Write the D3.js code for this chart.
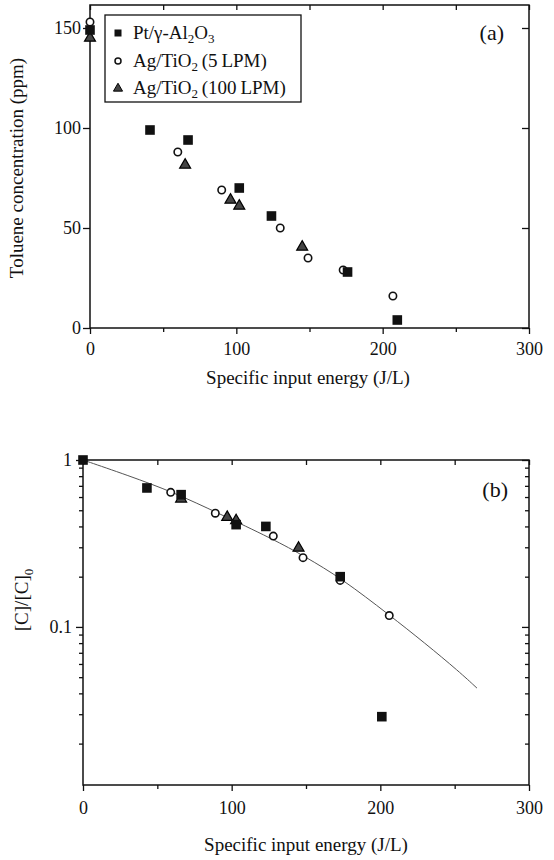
<!DOCTYPE html>
<meta charset="utf-8">
<head>
  <title>Toluene decomposition</title>
</head>
<style>
body { margin: 0; background: #fff; }
svg text { font-family: "Liberation Serif", "DejaVu Serif", serif; fill: #111; }
.frame { fill: none; stroke: #111; stroke-width: 1.5px; }
.axis path { display: none; }
.axis line { stroke: #111; stroke-width: 1.3px; }
.axis text { font-size: 18px; }
.fit { fill: none; stroke: #555; stroke-width: 1px; }
</style>
<body>
<svg width="554" height="860"></svg>
<script src="https://cdnjs.cloudflare.com/ajax/libs/d3/7.8.5/d3.min.js"></script>
<script>
// panel (a): toluene concentration (ppm)
var ptX_a = [0, 41, 67, 102, 124, 176, 210];
var ptY_a = [149, 99, 94, 70, 56, 28, 4];
var ag5X_a = [0, 60, 90, 130, 149, 173, 207];
var ag5Y_a = [153, 88, 69, 50, 35, 29, 16];
var ag100X_a = [0, 65, 96, 102, 145];
var ag100Y_a = [145, 81.5, 64, 61, 40.5];

// panel (b): [C]/[C]0, log scale
var ptX_b = [0, 43, 66, 103, 123, 173, 201];
var ptY_b = [1.0, 0.68, 0.62, 0.41, 0.40, 0.20, 0.029];
var ag5X_b = [59, 89, 128, 148, 173, 206];
var ag5Y_b = [0.64, 0.48, 0.35, 0.26, 0.19, 0.117];
var ag100X_b = [66, 97, 103, 145];
var ag100Y_b = [0.585, 0.454, 0.434, 0.297];
var fitX = [0, 30, 61, 91, 128, 149, 174, 206, 230, 253, 265];
var fitY = [1, 0.81, 0.64, 0.48, 0.335, 0.265, 0.195, 0.118, 0.08, 0.054, 0.043];

var xMajor = [0, 100, 200, 300];
var xMinor = [50, 150, 250];
var yMajor_a = [0, 50, 100, 150];
var yMajor_b = [0.1, 1];
var yMinor_b = [0.02, 0.03, 0.04, 0.05, 0.06, 0.07, 0.08, 0.09,
                0.2, 0.3, 0.4, 0.5, 0.6, 0.7, 0.8, 0.9];

var legendNames = [["Pt/\u03b3-Al", "2", "O", "3"], ["Ag/TiO", "2", "\u2009(5\u2009LPM)"], ["Ag/TiO", "2", "\u2009(100\u2009LPM)"]];

var serif = "'Liberation Serif', 'DejaVu Serif', serif";

function zip(xs, ys) { return xs.map(function(x, i) { return [x, ys[i]]; }); }

var svg = d3.select("svg");

function drawAxes(g, x, y, yTicks, yMinor, yFmt, xPad, yPad) {
  var x0 = x.range()[0], x1 = x.range()[1];
  var y0 = y.range()[0], y1 = y.range()[1];
  // bottom
  g.append("g").attr("class", "axis").attr("transform", "translate(0," + y0 + ")")
    .call(d3.axisBottom(x).tickValues(xMajor).tickSize(6).tickPadding(xPad).tickFormat(d3.format("d")))
    .attr("font-family", serif);
  g.append("g").attr("class", "axis").attr("transform", "translate(0," + y0 + ")")
    .call(d3.axisBottom(x).tickValues(xMinor).tickSize(4).tickFormat(""));
  // top (inward)
  g.append("g").attr("class", "axis").attr("transform", "translate(0," + y1 + ")")
    .call(d3.axisBottom(x).tickValues(xMajor.concat(xMinor)).tickSize(5).tickFormat(""));
  // left
  g.append("g").attr("class", "axis").attr("transform", "translate(" + x0 + ",0)")
    .call(d3.axisLeft(y).tickValues(yTicks).tickSize(7).tickPadding(yPad).tickFormat(yFmt))
    .attr("font-family", serif);
  // right (inward)
  g.append("g").attr("class", "axis").attr("transform", "translate(" + x1 + ",0)")
    .call(d3.axisLeft(y).tickValues(yTicks).tickSize(7).tickFormat(""));
  if (yMinor) {
    g.append("g").attr("class", "axis").attr("transform", "translate(" + x0 + ",0)")
      .call(d3.axisLeft(y).tickValues(yMinor).tickSize(4).tickFormat(""));
    g.append("g").attr("class", "axis").attr("transform", "translate(" + x1 + ",0)")
      .call(d3.axisLeft(y).tickValues(yMinor).tickSize(4).tickFormat(""));
  }
  g.append("rect").attr("class", "frame")
    .attr("x", x0).attr("y", y1).attr("width", x1 - x0).attr("height", y0 - y1);
}

function drawPoints(g, x, y, sq, circ, tri) {
  g.selectAll("circle.ag5").data(circ).enter().append("circle")
    .attr("class", "ag5")
    .attr("cx", function(d) { return x(d[0]); })
    .attr("cy", function(d) { return y(d[1]); })
    .attr("r", 3.7)
    .attr("fill", "#fff").attr("stroke", "#111").attr("stroke-width", 1.6);
  g.selectAll("path.ag100").data(tri).enter().append("path")
    .attr("class", "ag100")
    .attr("transform", function(d) { return "translate(" + x(d[0]) + "," + y(d[1]) + ")"; })
    .attr("d", d3.symbol().type(d3.symbolTriangle).size(52))
    .attr("fill", "#444").attr("stroke", "#000").attr("stroke-width", 1.2);
  g.selectAll("rect.pt").data(sq).enter().append("rect")
    .attr("class", "pt")
    .attr("x", function(d) { return x(d[0]) - 4.8; })
    .attr("y", function(d) { return y(d[1]) - 4.8; })
    .attr("width", 9.6).attr("height", 9.6)
    .attr("fill", "#111");
}

// ---- panel (a)
var xA = d3.scaleLinear().domain([0, 300]).range([90, 529]);
var yA = d3.scaleLinear().domain([0, 161.5]).range([328, 5]);
var gA = svg.append("g");
drawAxes(gA, xA, yA, yMajor_a, null, d3.format("d"), 8, 2);
drawPoints(gA, xA, yA, zip(ptX_a, ptY_a), zip(ag5X_a, ag5Y_a), zip(ag100X_a, ag100Y_a));

gA.append("text").attr("x", 504).attr("y", 40).attr("text-anchor", "end")
  .style("font-size", "22px").text("(a)");
gA.append("text").attr("x", 308).attr("y", 384).attr("text-anchor", "middle")
  .style("font-size", "19px").text("Specific input energy (J/L)");
gA.append("text").attr("transform", "translate(23,168) rotate(-90)").attr("text-anchor", "middle")
  .style("font-size", "19px").text("Toluene concentration (ppm)");

// legend
var leg = gA.append("g");
leg.append("rect").attr("x", 105).attr("y", 15).attr("width", 196).attr("height", 87)
  .attr("fill", "#fff").attr("stroke", "#111").attr("stroke-width", 1.3);
var rowY = [33, 61, 88];
leg.append("rect").attr("x", 114.5).attr("y", rowY[0] - 3.5).attr("width", 7).attr("height", 7).attr("fill", "#111");
leg.append("circle").attr("cx", 118).attr("cy", rowY[1]).attr("r", 3).attr("fill", "#fff")
  .attr("stroke", "#111").attr("stroke-width", 1.5);
leg.append("path").attr("transform", "translate(118," + (rowY[2] + 0.5) + ")")
  .attr("d", d3.symbol().type(d3.symbolTriangle).size(36)).attr("fill", "#444").attr("stroke", "#000");
legendNames.forEach(function(parts, i) {
  var t = leg.append("text").attr("x", 133).attr("y", rowY[i] + 6).style("font-size", "19px");
  parts.forEach(function(p, j) {
    var sub = (j % 2 === 1);
    t.append("tspan").attr("dy", sub ? 4 : (j > 0 ? -4 : 0))
      .style("font-size", sub ? "13px" : "19px").text(p);
  });
});

// ---- panel (b)
var xB = d3.scaleLinear().domain([0, 300]).range([83, 529]);
var yB = d3.scaleLog().domain([0.0113, 1]).range([785, 460]);
var gB = svg.append("g");
drawAxes(gB, xB, yB, yMajor_b, yMinor_b, function(d) { return d === 1 ? "1" : "0.1"; }, 10, 4);

gB.append("path").attr("class", "fit")
  .datum(zip(fitX, fitY))
  .attr("d", d3.line().x(function(d) { return xB(d[0]); }).y(function(d) { return yB(d[1]); })
    .curve(d3.curveBasis));
drawPoints(gB, xB, yB, zip(ptX_b, ptY_b), zip(ag5X_b, ag5Y_b), zip(ag100X_b, ag100Y_b));

gB.append("text").attr("x", 508).attr("y", 497).attr("text-anchor", "end")
  .style("font-size", "22px").text("(b)");
gB.append("text").attr("x", 306).attr("y", 851).attr("text-anchor", "middle")
  .style("font-size", "19px").text("Specific input energy (J/L)");
var yt = gB.append("text").attr("transform", "translate(28,600) rotate(-90)").attr("text-anchor", "middle")
  .style("font-size", "19px");
yt.append("tspan").text("[C]/[C]");
yt.append("tspan").attr("dy", 5).style("font-size", "13px").text("0");
</script>
</body>
